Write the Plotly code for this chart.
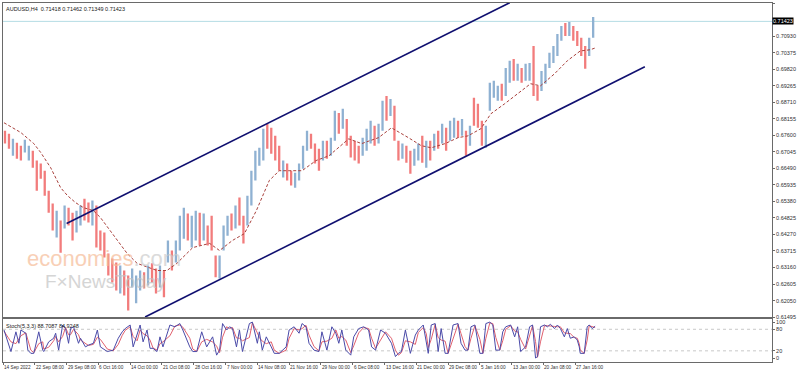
import plotly.graph_objects as go

# ---------------- data ----------------
# sampled H4 bars (bar index = position on the MT4 time axis, 1 bar per step)
bar_idx = list(range(2, 595, 4))
bar_high = [
    0.6775, 0.6765, 0.6748, 0.6735, 0.6725, 0.6745, 0.6725, 0.6708, 0.6675, 0.6665,
    0.6641, 0.6574, 0.6531, 0.6507, 0.6474, 0.6524, 0.6517, 0.6500, 0.6507, 0.6524,
    0.6547, 0.6534, 0.6541, 0.6524, 0.6440, 0.6434, 0.6363, 0.6346, 0.6333, 0.6323,
    0.6306, 0.6289, 0.6313, 0.6289, 0.6306, 0.6300, 0.6323, 0.6330, 0.6313, 0.6323,
    0.6306, 0.6407, 0.6373, 0.6407, 0.6490, 0.6517, 0.6497, 0.6490, 0.6507, 0.6500,
    0.6497, 0.6457, 0.6490, 0.6356, 0.6356, 0.6457, 0.6490, 0.6497, 0.6524, 0.6551,
    0.6490, 0.6557, 0.6641, 0.6708, 0.6718, 0.6782, 0.6799, 0.6785, 0.6758, 0.6725,
    0.6675, 0.6665, 0.6641, 0.6634, 0.6665, 0.6725, 0.6775, 0.6765, 0.6732, 0.6715,
    0.6742, 0.6742, 0.6752, 0.6842, 0.6835, 0.6849, 0.6815, 0.6758, 0.6742, 0.6725,
    0.6752, 0.6782, 0.6809, 0.6792, 0.6799, 0.6876, 0.6892, 0.6882, 0.6859, 0.6742,
    0.6732, 0.6725, 0.6708, 0.6715, 0.6732, 0.6758, 0.6742, 0.6742, 0.6765, 0.6775,
    0.6799, 0.6785, 0.6809, 0.6819, 0.6809, 0.6815, 0.6775, 0.6792, 0.6886, 0.6866,
    0.6809, 0.6792, 0.6936, 0.6943, 0.6926, 0.6933, 0.6986, 0.7010, 0.7016, 0.7000,
    0.6986, 0.7000, 0.7003, 0.7060, 0.6926, 0.6976, 0.7000, 0.7037, 0.7060, 0.7100,
    0.7127, 0.7137, 0.7140, 0.7127, 0.7110, 0.7087, 0.7060, 0.7087, 0.7157,
]
bar_low = [
    0.6732, 0.6715, 0.6691, 0.6681, 0.6675, 0.6702, 0.6675, 0.6651, 0.6574, 0.6614,
    0.6557, 0.6500, 0.6440, 0.6417, 0.6366, 0.6447, 0.6457, 0.6407, 0.6434, 0.6457,
    0.6474, 0.6467, 0.6457, 0.6383, 0.6373, 0.6350, 0.6289, 0.6266, 0.6239, 0.6229,
    0.6222, 0.6172, 0.6249, 0.6196, 0.6239, 0.6246, 0.6256, 0.6266, 0.6229, 0.6249,
    0.6216, 0.6333, 0.6306, 0.6333, 0.6373, 0.6413, 0.6407, 0.6383, 0.6407, 0.6390,
    0.6407, 0.6390, 0.6373, 0.6283, 0.6279, 0.6373, 0.6423, 0.6440, 0.6447, 0.6457,
    0.6397, 0.6457, 0.6524, 0.6608, 0.6658, 0.6675, 0.6715, 0.6698, 0.6675, 0.6641,
    0.6618, 0.6608, 0.6591, 0.6584, 0.6608, 0.6648, 0.6708, 0.6715, 0.6665, 0.6641,
    0.6675, 0.6681, 0.6691, 0.6742, 0.6765, 0.6782, 0.6725, 0.6685, 0.6675, 0.6665,
    0.6691, 0.6708, 0.6732, 0.6725, 0.6732, 0.6775, 0.6809, 0.6825, 0.6742, 0.6675,
    0.6681, 0.6668, 0.6631, 0.6658, 0.6675, 0.6668, 0.6651, 0.6675, 0.6708, 0.6715,
    0.6732, 0.6708, 0.6742, 0.6752, 0.6752, 0.6758, 0.6691, 0.6725, 0.6792, 0.6785,
    0.6725, 0.6718, 0.6842, 0.6886, 0.6876, 0.6876, 0.6892, 0.6936, 0.6943, 0.6943,
    0.6936, 0.6943, 0.6943, 0.6892, 0.6876, 0.6909, 0.6933, 0.6986, 0.7003, 0.7026,
    0.7077, 0.7093, 0.7093, 0.7077, 0.7060, 0.7026, 0.6983, 0.7026, 0.7087,
]
bar_dir = list(
    "ddudduuddd"
    "dddududduu"
    "dduddddddu"
    "dduuududdu"
    "duduuuduud"
    "uddduuudud"
    "duuuuudddd"
    "udduuuuddd"
    "uduududddd"
    "uuuduududd"
    "udduududud"
    "uduudududd"
    "duuuuduudu"
    "duudduuuuu"
    "ududddduu"
)

# 100-bar moving average (dashed)
ma_idx = [1, 18, 31, 38, 48, 58, 65, 73, 81, 91, 98, 108, 118, 125, 135, 155, 165, 175,
          191, 208, 218, 231, 243, 255, 268, 278, 288, 301, 315, 328, 348, 361, 378, 391,
          408, 421, 431, 445, 458, 468, 481, 491, 505, 518, 531, 541, 555, 568, 581, 591, 596]
ma_val = [0.6802, 0.6769, 0.6732, 0.6702, 0.6651, 0.6584, 0.6557, 0.6534, 0.6517, 0.6507,
          0.6484, 0.6440, 0.6397, 0.6363, 0.6330, 0.6306, 0.6306, 0.6330, 0.6383, 0.6397,
          0.6373, 0.6407, 0.6430, 0.6507, 0.6608, 0.6641, 0.6641, 0.6641, 0.6675, 0.6691,
          0.6748, 0.6732, 0.6752, 0.6785, 0.6752, 0.6725, 0.6718, 0.6732, 0.6752, 0.6758,
          0.6782, 0.6832, 0.6866, 0.6899, 0.6933, 0.6926, 0.6966, 0.7010, 0.7043, 0.7047, 0.7053]

# channel lines
upper_idx = [64, 510]
upper_val = [0.6464, 0.7205]
lower_idx = [143, 646]
lower_val = [0.6150, 0.6990]

last_price = 0.71423

# Stochastic(5,3,3)
st_idx = [1, 8, 13, 16, 18, 23, 25, 28, 31, 36, 40, 41, 46, 51, 53, 56, 60, 63, 66, 68,
          71, 76, 78, 83, 86, 91, 95, 98, 105, 111, 116, 120, 123, 128, 131, 135, 138, 141,
          145, 148, 151, 155, 158, 161, 168, 173, 178, 181, 188, 191, 195, 200, 205, 211,
          215, 218, 221, 225, 228, 231, 235, 238, 241, 248, 251, 256, 258, 261, 265, 270,
          273, 278, 285, 288, 293, 298, 301, 305, 308, 313, 318, 321, 326, 331, 335, 338,
          341, 345, 350, 353, 358, 363, 368, 371, 375, 380, 385, 391, 395,
          398, 401, 405, 410, 415, 418, 423, 426, 428, 431, 435, 438, 441, 445, 448, 453,
          458, 461, 465, 468, 471, 475, 480, 483, 486, 490, 493, 496, 500, 503, 506, 511,
          515, 518, 521, 526, 530, 533, 536, 538, 541, 545, 548, 551, 555, 558, 561, 565,
          568, 571, 575, 578, 580, 581, 585, 588, 590, 593, 596]
st_k = [78, 18, 73, 41, 78, 69, 22, 13, 13, 73, 22, 18, 45, 55, 69, 22, 92, 82, 41, 82,
        87, 41, 55, 31, 36, 41, 78, 31, 18, 22, 55, 73, 82, 92, 31, 64, 92, 45,
        78, 27, 27, 18, 59, 31, 92, 87, 96, 78, 31, 18, 18, 73, 31, 59,
        8, 22, 96, 78, 87, 82, 31, 78, 18, 96, 100, 41, 73, 22, 59, 31,
        13, 13, 31, 78, 87, 69, 96, 87, 41, 22, 18, 73, 22, 87, 69, 41,
        78, 22, 8, 59, 82, 87, 78, 31, 22, 78, 69, 41, 4,
        13, 18, 78, 13, 64, 78, 92, 45, 13, 92, 96, 18, 82, 13, 13, 92,
        96, 41, 22, 22, 87, 92, 13, 13, 96, 100, 92, 22, 22, 73, 87, 92,
        59, 87, 18, 31, 87, 92, 0, 4, 87, 92, 87, 94, 82, 92, 82, 59,
        82, 55, 59, 50, 31, 13, 13, 87, 92, 82, 88.7]
st_d = [75, 45, 40, 55, 62, 70, 50, 22, 15, 40, 45, 25, 30, 48, 60, 45, 60, 85, 65, 65,
        80, 65, 50, 42, 35, 38, 58, 52, 25, 20, 38, 63, 77, 87, 60, 48, 78, 68,
        62, 50, 28, 22, 40, 45, 62, 89, 92, 86, 55, 25, 18, 45, 52, 45,
        33, 15, 58, 87, 82, 85, 56, 55, 48, 57, 98, 70, 57, 47, 40, 45,
        22, 13, 22, 55, 82, 78, 82, 91, 64, 32, 20, 45, 47, 55, 78, 55,
        60, 50, 15, 34, 70, 85, 82, 55, 27, 50, 73, 55, 22,
        8, 15, 48, 45, 38, 71, 85, 68, 29, 52, 94, 57, 50, 47, 13, 52,
        94, 68, 32, 22, 55, 90, 52, 13, 55, 98, 96, 57, 22, 48, 80, 90,
        75, 73, 52, 25, 59, 90, 46, 2, 45, 90, 90, 90, 88, 87, 87, 70,
        70, 68, 57, 55, 40, 22, 13, 50, 90, 87, 84.9]
st_levels = [80, 20]

date_labels = ["14 Sep 2022", "22 Sep 08:00", "29 Sep 08:00", "6 Oct 16:00", "14 Oct 00:00",
               "21 Oct 08:00", "28 Oct 16:00", "7 Nov 00:00", "14 Nov 08:00", "21 Nov 16:00",
               "29 Nov 00:00", "6 Dec 08:00", "13 Dec 16:00", "21 Dec 00:00", "29 Dec 08:00",
               "5 Jan 16:00", "13 Jan 00:00", "20 Jan 08:00", "27 Jan 16:00"]
bars_per_label = 32

price_ticks = [0.72040, 0.70930, 0.70375, 0.69820, 0.69265, 0.68710, 0.68155, 0.67600,
               0.67045, 0.66490, 0.65935, 0.65380, 0.64825, 0.64270, 0.63715, 0.63160,
               0.62605, 0.62050, 0.61495]
stoch_ticks = [100, 80, 20, 0]

# watermark anchor (price level between the two logo lines)
logo_split = 0.6300

# ---------------- figure ----------------
FONT = "Liberation Sans"
UP = "#8fb1d2"
DOWN = "#f27c7c"

fig = go.Figure()

xs_up, ys_up, xs_dn, ys_dn = [], [], [], []
for i, h, l, d in zip(bar_idx, bar_high, bar_low, bar_dir):
    if d == "u":
        xs_up += [i, i, None]; ys_up += [l, h, None]
    else:
        xs_dn += [i, i, None]; ys_dn += [h, l, None]

fig.add_trace(go.Scatter(x=xs_up, y=ys_up, mode="lines", line=dict(color=UP, width=2.3),
                         xaxis="x", yaxis="y", hoverinfo="skip"))
fig.add_trace(go.Scatter(x=xs_dn, y=ys_dn, mode="lines", line=dict(color=DOWN, width=2.3),
                         xaxis="x", yaxis="y", hoverinfo="skip"))
fig.add_trace(go.Scatter(x=ma_idx, y=ma_val, mode="lines",
                         line=dict(color="#a8403c", width=1, dash="3px,2px"),
                         xaxis="x", yaxis="y"))
fig.add_trace(go.Scatter(x=upper_idx, y=upper_val, mode="lines",
                         line=dict(color="#101070", width=1.6), xaxis="x", yaxis="y"))
fig.add_trace(go.Scatter(x=lower_idx, y=lower_val, mode="lines",
                         line=dict(color="#101070", width=1.6), xaxis="x", yaxis="y"))

# stochastic panel
for lv in st_levels:
    fig.add_trace(go.Scatter(x=[0, 774], y=[lv, lv], mode="lines",
                             line=dict(color="#c8c8c8", width=1, dash="dot"),
                             xaxis="x2", yaxis="y2"))
fig.add_trace(go.Scatter(x=st_idx, y=st_d, mode="lines", line=dict(color="#e0606e", width=1),
                         xaxis="x2", yaxis="y2"))
fig.add_trace(go.Scatter(x=st_idx, y=st_k, mode="lines", line=dict(color="#4a4aa8", width=1),
                         xaxis="x2", yaxis="y2"))

axis_line = "#6a6a6a"
tick_font = dict(family=FONT, size=5.5, color="#303030")

fig.update_layout(
    width=798, height=372,
    margin=dict(l=2, r=22, t=2, b=10),
    paper_bgcolor="white", plot_bgcolor="white",
    showlegend=False,
    xaxis=dict(domain=[0, 1], range=[0, 774], showticklabels=False, showgrid=False,
               zeroline=False, showline=True, mirror=True, linecolor=axis_line, linewidth=1,
               ticks=""),
    yaxis=dict(domain=[0.125, 1], range=[0.61495, 0.72040], side="right",
               tickvals=price_ticks, ticktext=[f"{v:.5f}" for v in price_ticks],
               ticks="outside", ticklen=2, tickcolor=axis_line, tickfont=tick_font,
               ticklabelstandoff=0,
               showgrid=False, zeroline=False, showline=True, mirror=True,
               linecolor=axis_line, linewidth=1, anchor="x"),
    xaxis2=dict(domain=[0, 1], range=[0, 774], anchor="y2",
                tickvals=[k * bars_per_label for k in range(len(date_labels))],
                ticktext=["" for _ in date_labels], ticks="outside", ticklen=2,
                tickcolor=axis_line, showgrid=False, zeroline=False, showline=True,
                mirror=True, linecolor=axis_line, linewidth=1),
    yaxis2=dict(domain=[0, 0.1194], range=[-11.1, 108.3], side="right", anchor="x2",
                tickvals=stoch_ticks, ticktext=[str(v) for v in stoch_ticks],
                ticks="outside", ticklen=2, tickcolor=axis_line, tickfont=tick_font,
                ticklabelstandoff=0,
                showgrid=False, zeroline=False, showline=True, mirror=True,
                linecolor=axis_line, linewidth=1),
    shapes=[dict(type="line", xref="x", yref="y", x0=0, x1=774, y0=last_price, y1=last_price,
                 line=dict(color="#b4dce4", width=1), layer="below")],
)

ann = []
ann.append(dict(xref="paper", yref="paper", x=0, y=1, xanchor="left", yanchor="top",
                xshift=1, yshift=-1, showarrow=False,
                text="AUDUSD,H4  0.71418 0.71462 0.71349 0.71423",
                font=dict(family=FONT, size=5.5, color="#202020")))
ann.append(dict(xref="paper", yref="paper", x=0, y=0.1194, xanchor="left", yanchor="top",
                xshift=1, yshift=-2, showarrow=False,
                text="Stoch(5,3,3) 88.7087 84.9248",
                font=dict(family=FONT, size=5.5, color="#202020")))
ann.append(dict(xref="paper", yref="y", x=1, y=last_price, xanchor="left", yanchor="middle",
                xshift=0, showarrow=False, text=f"{last_price:.5f}", bgcolor="#000000",
                borderpad=0, font=dict(family=FONT, size=5.5, color="#ffffff")))
for k, lab in enumerate(date_labels):
    ann.append(dict(xref="x2", yref="paper", x=k * bars_per_label, y=0, xanchor="left",
                    yanchor="top", yshift=-1, xshift=-1, showarrow=False, text=lab,
                    font=dict(family=FONT, size=4.7, color="#303030")))
# watermark
ann.append(dict(xref="x", yref="y", x=23, y=logo_split, xanchor="left", yanchor="bottom",
                showarrow=False, opacity=0.7, borderpad=0,
                text="<span style='color:#f6bc98'>economies</span><span style='color:#cccccc'>.com</span>",
                font=dict(family=FONT, size=22)))
ann.append(dict(xref="x", yref="y", x=41, y=logo_split, xanchor="left", yanchor="top",
                showarrow=False, opacity=0.7, borderpad=0, yshift=2,
                text="F\u00d7NewsToday",
                font=dict(family=FONT, size=19, color="#c4c4c4")))
fig.update_layout(annotations=ann)

fig.write_html("out.html", config={"displayModeBar": False},
               post_script="document.body.style.margin='0';document.body.style.padding='0';")
